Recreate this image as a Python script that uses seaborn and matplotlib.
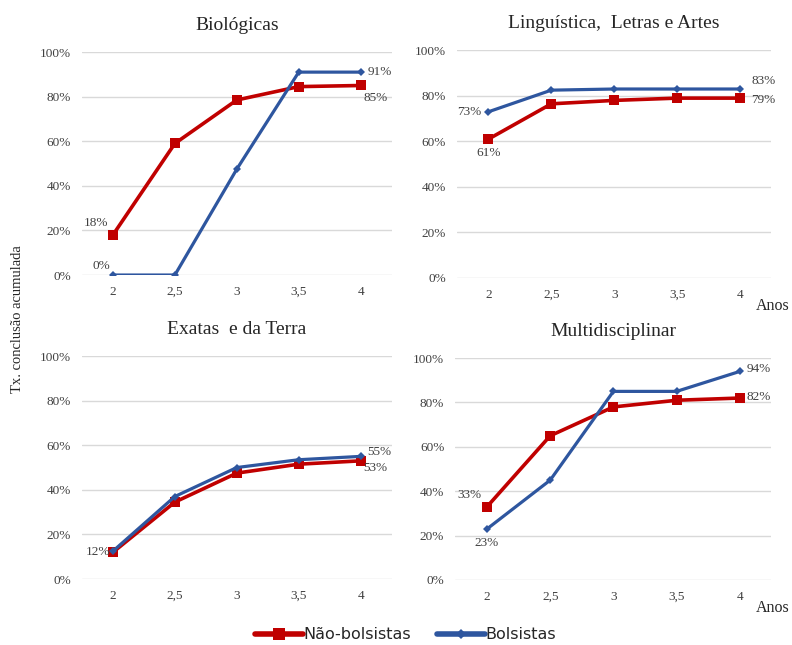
import pandas as pd
import matplotlib.pyplot as plt
import seaborn as sns
from matplotlib.lines import Line2D

# data
anos = [2, 2.5, 3, 3.5, 4]
ano_labels = ['2', '2,5', '3', '3,5', '4']
areas = ['Biológicas', 'Linguística,  Letras e Artes', 'Exatas  e da Terra', 'Multidisciplinar']

nao_bolsistas = {
    'Biológicas': [0.18, 0.59, 0.785, 0.845, 0.85],
    'Linguística,  Letras e Artes': [0.61, 0.765, 0.78, 0.79, 0.79],
    'Exatas  e da Terra': [0.12, 0.345, 0.475, 0.515, 0.53],
    'Multidisciplinar': [0.33, 0.65, 0.78, 0.81, 0.82],
}
bolsistas = {
    'Biológicas': [0.0, 0.0, 0.475, 0.91, 0.91],
    'Linguística,  Letras e Artes': [0.73, 0.825, 0.83, 0.83, 0.83],
    'Exatas  e da Terra': [0.125, 0.37, 0.50, 0.535, 0.55],
    'Multidisciplinar': [0.23, 0.45, 0.85, 0.85, 0.94],
}

RED = '#C00000'
BLUE = '#2E569F'
SERIF = 'Liberation Serif'

sns.set_style('white')
plt.rcParams['font.family'] = [SERIF, 'DejaVu Serif']

fig = plt.figure(figsize=(7.92, 6.45), dpi=100)

# axes boxes in figure fractions
boxes = {
    'Biológicas': [0.1035, 0.5736, 0.391, 0.3457],
    'Linguística,  Letras e Artes': [0.577, 0.569, 0.397, 0.353],
    'Exatas  e da Terra': [0.1035, 0.1023, 0.391, 0.3457],
    'Multidisciplinar': [0.575, 0.1008, 0.399, 0.344],
}

# label offsets (points) for first and last values: (red_first, blue_first, red_last, blue_last)
# None = no label drawn
offsets = {
    'Biológicas': [((-3, 4), 'right', 'bottom'), ((-2, 2), 'right', 'bottom'),
                   ((2, -5), 'left', 'top'), ((5, 0), 'left', 'center')],
    'Linguística,  Letras e Artes': [((0, -6), 'center', 'top'), ((-5, 0), 'right', 'center'),
                                     ((8, -1), 'left', 'center'), ((8, 6), 'left', 'center')],
    'Exatas  e da Terra': [((-2, 0), 'right', 'center'), None,
                           ((2, -5), 'left', 'center'), ((5, 3), 'left', 'center')],
    'Multidisciplinar': [((-4, 4), 'right', 'bottom'), ((0, -6), 'center', 'top'),
                         ((5, 1), 'left', 'center'), ((5, 2), 'left', 'center')],
}

for area in areas:
    ax = fig.add_axes(boxes[area])
    df = pd.DataFrame({
        'ano': anos * 2,
        'taxa': nao_bolsistas[area] + bolsistas[area],
        'grupo': ['Não-bolsistas'] * 5 + ['Bolsistas'] * 5,
    })
    sns.lineplot(data=df[df['grupo'] == 'Não-bolsistas'], x='ano', y='taxa', ax=ax,
                 color=RED, lw=2.6, marker='s', markersize=7, markeredgewidth=0)
    sns.lineplot(data=df[df['grupo'] == 'Bolsistas'], x='ano', y='taxa', ax=ax,
                 color=BLUE, lw=2.3, marker='D', markersize=4.5, markeredgewidth=0)

    ax.set_xlim(1.75, 4.25)
    ax.set_ylim(0, 1.0)
    ax.set_yticks([0, 0.2, 0.4, 0.6, 0.8, 1.0])
    ax.set_yticklabels(['0%', '20%', '40%', '60%', '80%', '100%'])
    ax.set_xticks(anos)
    ax.set_xticklabels(ano_labels)
    ax.tick_params(axis='both', length=0, labelsize=9.5, labelcolor='#404040', pad=8)
    ax.grid(axis='y', color='#D9D9D9', lw=1)
    ax.set_axisbelow(True)
    for s in ax.spines.values():
        s.set_visible(False)
    ax.set_xlabel('')
    ax.set_ylabel('')
    ax.set_title(area, fontsize=14, color='#262626', pad=16)

    series = [(nao_bolsistas[area], 0), (bolsistas[area], 0),
              (nao_bolsistas[area], -1), (bolsistas[area], -1)]
    for (vals, idx), spec in zip(series, offsets[area]):
        if spec is None:
            continue
        off, ha, va = spec
        ax.annotate(f'{vals[idx] * 100:.0f}%', (anos[idx], vals[idx]), xytext=off,
                    textcoords='offset points', ha=ha, va=va, fontsize=9.5,
                    color='#404040', annotation_clip=False)

# "Anos" labels at the right edge, below the right-hand panels
for ypos in (0.525, 0.058):
    fig.text(0.997, ypos, 'Anos', fontsize=11.5, color='#262626', ha='right', va='center')

fig.text(0.022, 0.505, 'Tx. conclusão acumulada', rotation=90, fontsize=10.5,
         color='#262626', ha='center', va='center')

handles = [
    Line2D([], [], color=RED, lw=4, marker='s', markersize=9, markeredgewidth=0),
    Line2D([], [], color=BLUE, lw=4, marker='D', markersize=5.5, markeredgewidth=0),
]
fig.legend(handles, ['Não-bolsistas', 'Bolsistas'], loc='center', ncol=2,
           bbox_to_anchor=(0.512, 0.016), frameon=False, handlelength=3.0,
           handletextpad=0.05, columnspacing=1.6,
           prop={'family': 'DejaVu Sans', 'size': 11.5})

fig.savefig('out.png', dpi=100)
